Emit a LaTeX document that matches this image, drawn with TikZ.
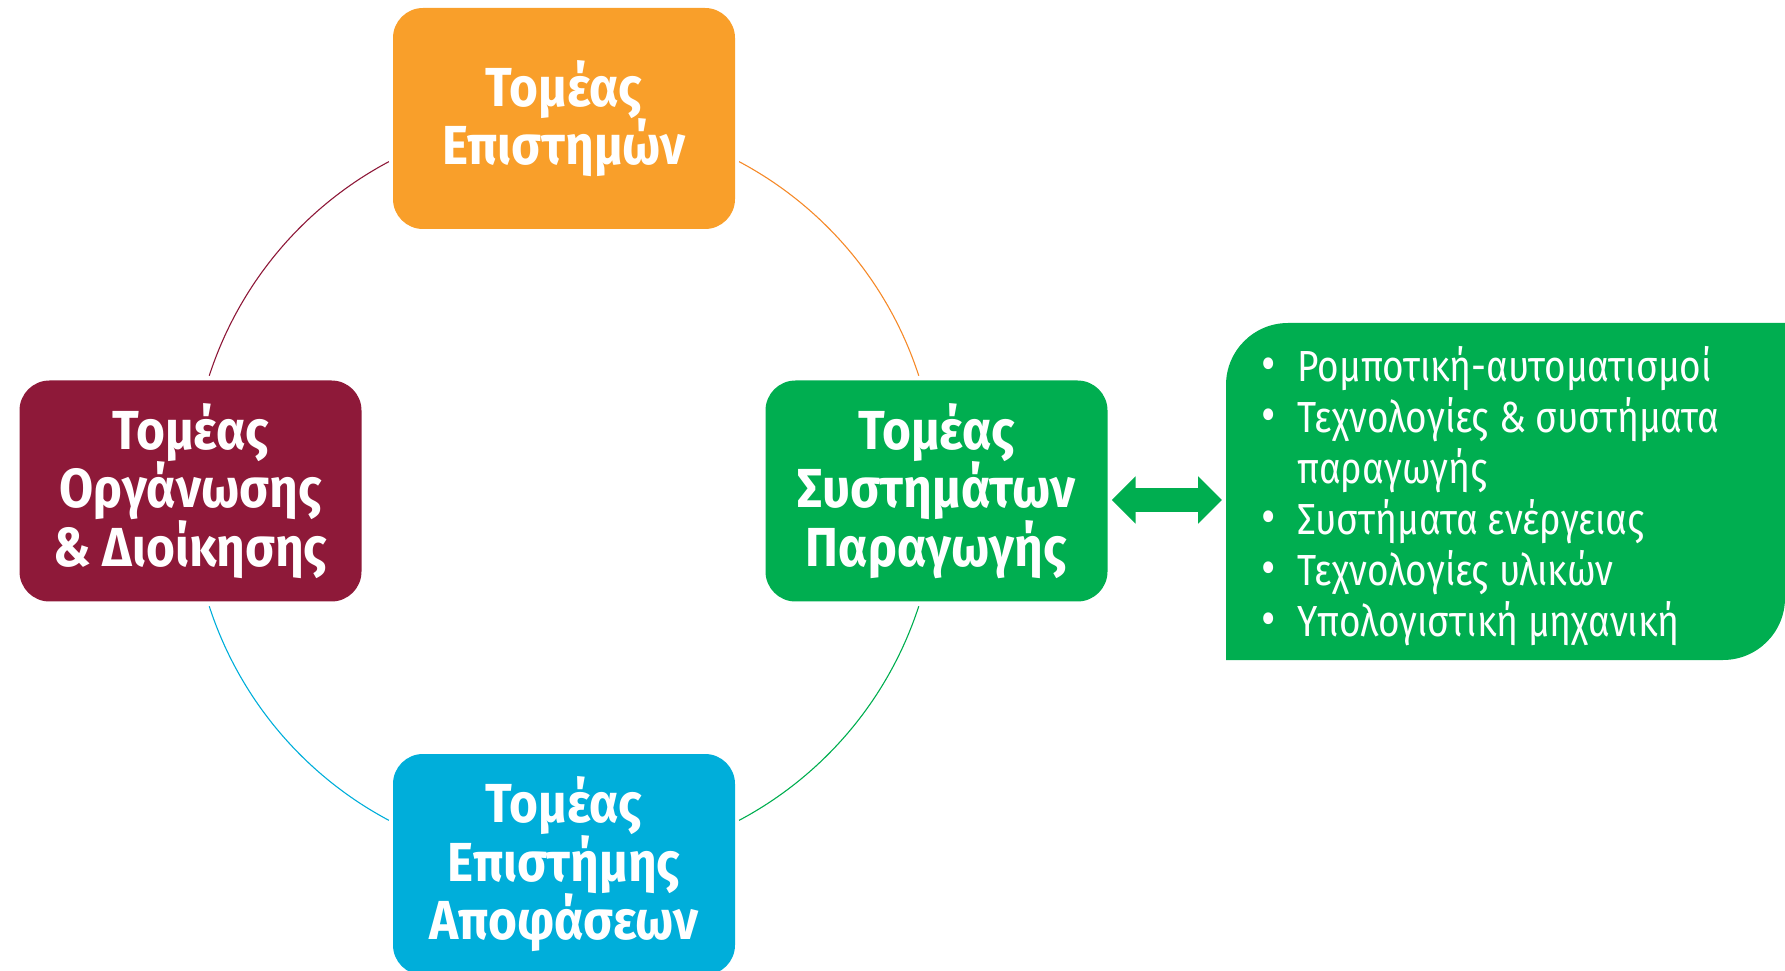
\documentclass[tikz,border=0pt]{standalone}
\usepackage{fontspec}
\setmainfont[FakeStretch=0.85, BoldFeatures={FakeStretch=0.9}]{Fira Sans}
\usetikzlibrary{arrows.meta}
\definecolor{cOrange}{HTML}{F99F2A}
\definecolor{cArcOrange}{HTML}{F58A2A}
\definecolor{cMaroon}{HTML}{8E1939}
\definecolor{cGreen}{HTML}{00AE50}
\definecolor{cBlue}{HTML}{00AEDA}
\newcommand\listbullet{{\fontsize{52}{51}\selectfont•}}
\begin{document}
\begin{tikzpicture}[x=1pt,y=1pt,
  sector/.style={rounded corners=30pt, minimum width=342pt, minimum height=221pt,
    text=white, font=\bfseries\fontsize{55}{58.5}\selectfont, align=center, inner sep=0pt},
  link/.style={line width=1.1pt},
  listtext/.style={text=white, font=\fontsize{43.5}{51}\selectfont, inner sep=0pt, anchor=base west}]
\useasboundingbox (0,0) rectangle (1785,970);
\clip (0,0) rectangle (1785,970);
% sector boxes
\node[sector, fill=cOrange] (sci) at (564,851.5) {Τομέας\\Επιστημών};
\node[sector, fill=cMaroon] (org) at (190.5,479) {Τομέας\\Οργάνωσης\\\& Διοίκησης};
\node[sector, fill=cGreen] (prod) at (936.5,479) {Τομέας\\Συστημάτων\\Παραγωγής};
\node[sector, fill=cBlue] (dec) at (564,105.5) {Τομέας\\Επιστήμης\\Αποφάσεων};
% circle arcs
\coordinate (c) at (564,479);
\draw[link, cMaroon] (c) ++(118:373) arc[start angle=118, end angle=162, radius=373];
\draw[link, cArcOrange] (c) ++(18:373) arc[start angle=18, end angle=62, radius=373];
\draw[link, cBlue] (c) ++(198:373) arc[start angle=198, end angle=242, radius=373];
\draw[link, cGreen] (c) ++(298:373) arc[start angle=298, end angle=342, radius=373];
% list box
\fill[cGreen] (1226,310) -- (1226,585) arc[start angle=180, end angle=90, radius=62]
  -- (1785,647) -- (1785,372) arc[start angle=0, end angle=-90, radius=62] -- cycle;
\coordinate (lw) at (1226,470);
\node[listtext] (list) at (1261,588) {\begin{tabular}[t]{@{}l@{\hspace{22pt}}l@{}}
\listbullet&Ρομποτική-αυτοματισμοί\\
\listbullet&Τεχνολογίες \& συστήματα\\
&παραγωγής\\
\listbullet&Συστήματα ενέργειας\\
\listbullet&Τεχνολογίες υλικών\\
\listbullet&Υπολογιστική μηχανική
\end{tabular}};
% double arrow
\draw[cGreen, line width=24pt,
  {Triangle[length=24pt,width=46pt]}-{Triangle[length=24pt,width=46pt]},
  shorten <=4pt, shorten >=4pt] (prod.east |- lw) -- (lw);
\end{tikzpicture}
\end{document}
